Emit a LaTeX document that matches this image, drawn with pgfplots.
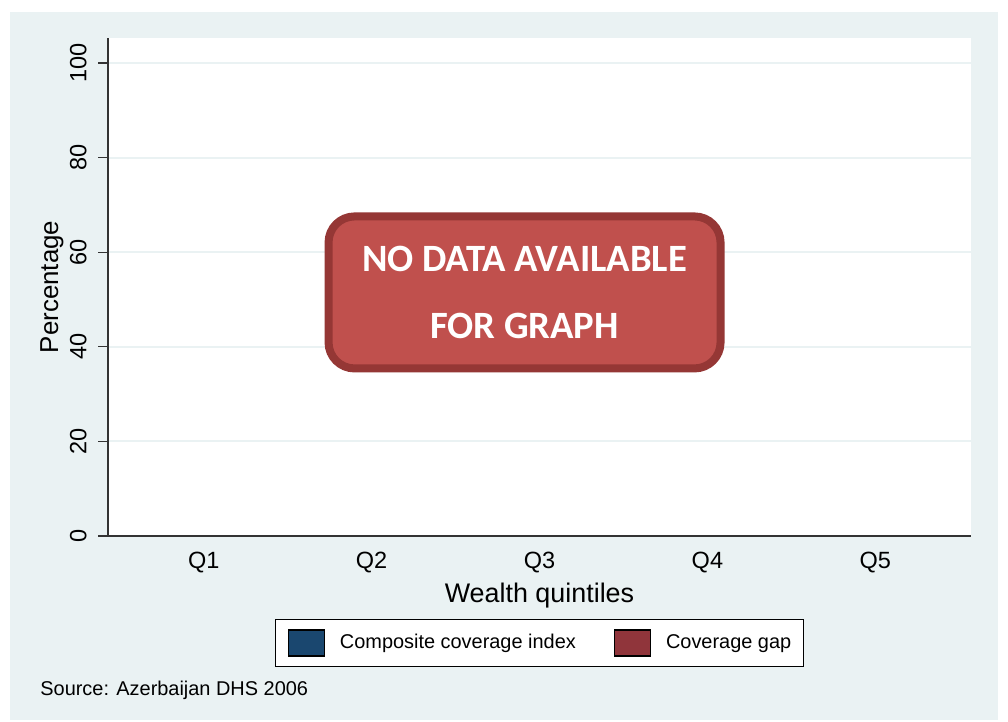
\documentclass[border=0pt]{standalone}
\usepackage{fontspec}
\setmainfont{Liberation Sans}
\newfontfamily\boxfont{Carlito}
\usepackage{pgfplots}
\pgfplotsset{compat=1.18}
\definecolor{bgc}{RGB}{234,242,243}
\definecolor{navy}{RGB}{26,71,111}
\definecolor{maroon}{RGB}{144,53,59}
\definecolor{boxfill}{HTML}{C0504D}
\definecolor{boxline}{HTML}{953735}
\begin{document}
\begin{tikzpicture}
\useasboundingbox (0,0) rectangle (504bp,361bp);
\fill[white] (0,0) rectangle (504bp,361bp);
\fill[bgc] (5bp,1bp) rectangle (499bp,355bp);
\begin{axis}[
  at={(54bp,93bp)}, anchor=south west,
  scale only axis, width=431.5bp, height=249bp,
  xmin=0.43, xmax=5.57, ymin=0, ymax=105.3,
  axis background/.style={fill=white},
  axis x line*=bottom, axis y line*=left,
  axis line style={-, black!80, line width=0.6bp},
  xtick={1,2,3,4,5}, xticklabels={Q1,Q2,Q3,Q4,Q5},
  xtick style={draw=none},
  ytick={0,20,40,60,80,100},
  yticklabels={0,20,40,60,80,100},
  ytick style={black!80, line width=0.6bp},
  tick align=outside, major tick length=5bp,
  ymajorgrids, grid style={bgc, line width=1bp},
  tick label style={font=\fontsize{11.8}{14}\selectfont},
  xticklabel style={yshift=0.5bp},
  yticklabel style={xshift=-5.5bp, rotate=90, anchor=south, inner sep=0pt},
  xlabel={Wealth quintiles}, ylabel={Percentage},
  xlabel style={at={(axis description cs:0.5,-0.12)}, anchor=center, font=\fontsize{13.5}{16}\selectfont},
  ylabel style={at={(axis description cs:-0.065,0.5)}, anchor=center, font=\fontsize{13}{16}\selectfont},
  clip=false,
  legend columns=2,
  legend style={at={(axis description cs:0.5,-0.215)}, anchor=center,
    draw=black, line width=0.6bp, fill=white, font=\fontsize{10}{12}\selectfont,
    inner xsep=6bp, inner ysep=5bp,
    nodes={inner sep=0pt, anchor=west},
    column sep=7.5bp,
    /tikz/every even column/.append style={column sep=19bp}},
  legend image code/.code={\fill[#1] (0bp,-6.5bp) rectangle (18bp,6.5bp);},
]
\addlegendimage{fill=navy}
\addlegendentry{Composite coverage index}
\addlegendimage{fill=maroon}
\addlegendentry{Coverage gap}
\node[draw=boxline, fill=boxfill, line width=4bp, rounded corners=13bp,
  minimum width=196bp, minimum height=76bp, inner sep=0pt,
  text=white, align=center,
  font=\boxfont\bfseries\fontsize{19.4}{34}\selectfont]
  at (axis cs:2.911,51.5) {NO DATA AVAILABLE\\FOR GRAPH};
\end{axis}
\node[anchor=base west, inner sep=0pt, font=\fontsize{10}{12}\selectfont] at (20bp,13.5bp) {Source: Azerbaijan DHS 2006};
\end{tikzpicture}
\end{document}
